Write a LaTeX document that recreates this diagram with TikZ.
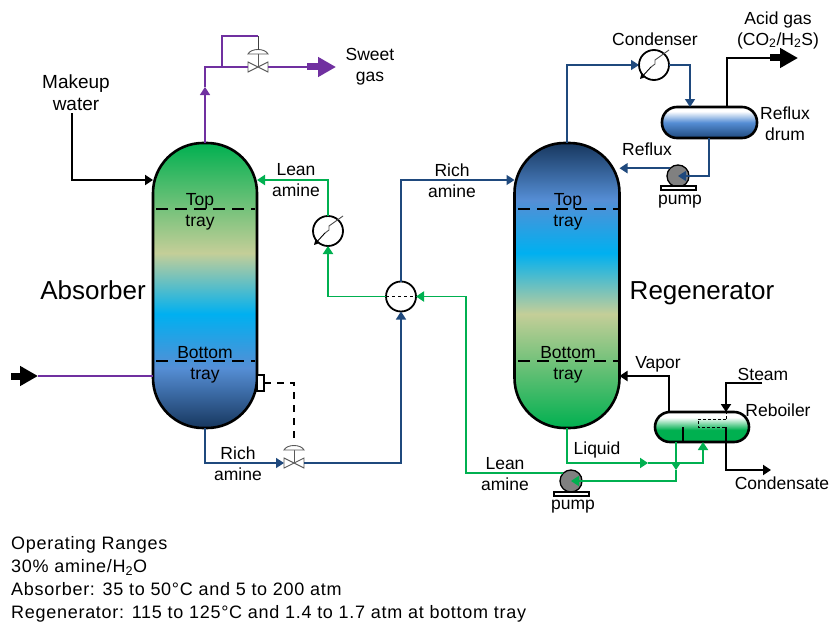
\documentclass[tikz,border=0pt]{standalone}
\usepackage{fontspec}
\setmainfont{Liberation Sans}
\newfontfamily\rangesfont[LetterSpace=4]{Liberation Sans}
\usetikzlibrary{
  calc,
  arrows.meta
}
\definecolor{gasline}{RGB}{112,48,160}
\definecolor{leanline}{RGB}{0,176,80}
\definecolor{richline}{RGB}{31,73,125}
\definecolor{khaki}{RGB}{196,206,152}
\definecolor{skyblue}{RGB}{0,176,240}
\definecolor{midblue}{RGB}{85,142,213}
\definecolor{navyblue}{RGB}{23,55,94}
\pgfdeclareverticalshading{absorberfill}{100bp}{
  color(0bp)=(navyblue); color(25bp)=(navyblue); color(35.5bp)=(midblue);
  color(45bp)=(skyblue); color(55.7bp)=(khaki); color(75bp)=(leanline); color(100bp)=(leanline)}
\pgfdeclareverticalshading{regenfill}{100bp}{
  color(0bp)=(leanline); color(25bp)=(leanline); color(45bp)=(khaki);
  color(55.7bp)=(skyblue); color(65bp)=(midblue); color(75bp)=(navyblue); color(100bp)=(navyblue)}
\pgfdeclareverticalshading{drumfill}{100bp}{
  color(0bp)=(richline); color(25bp)=(richline); color(50bp)=(midblue);
  color(68bp)=(white); color(100bp)=(white)}
\pgfdeclareverticalshading{boilerfill}{100bp}{
  color(0bp)=(leanline); color(45bp)=(leanline); color(66bp)=(white); color(100bp)=(white)}

\begin{document}
\begin{tikzpicture}[x=1pt,y=-1pt,>={Triangle[length=8pt,width=10pt]}]
  \tikzset{
    txt/.style={align=center, inner sep=0pt, font=\fontsize{17.5}{21}\selectfont},
    bigtxt/.style={font=\fontsize{26}{30}\selectfont},
    vessel/.style={draw, line width=2.6pt, inner sep=0pt, outer sep=0pt, rectangle,
      minimum width=#1},
    traydash/.style={line width=1.2pt, dash pattern=on 12pt off 7pt},
    hxcircle/.style={draw, circle, fill=white, line width=1.8pt, minimum size=30pt,
      inner sep=0pt, outer sep=0pt},
    pumpbody/.style={draw, circle, fill=gray, line width=1.3pt, minimum size=22pt,
      inner sep=0pt, outer sep=0pt},
    pumpbase/.style={draw, rectangle, fill=white, line width=1.3pt, minimum width=35pt,
      minimum height=4pt, inner sep=0pt, outer sep=0pt},
    valvebox/.style={rectangle, minimum width=20pt, minimum height=10pt, inner sep=0pt,
      outer sep=0pt},
    valveline/.style={draw=black!65, line width=0.9pt},
    gasflow/.style={gasline, line width=1.5pt},
    leanflow/.style={leanline, line width=1.8pt},
    richflow/.style={richline, line width=1.6pt},
    blackflow/.style={black, line width=1.8pt},
    fattip/.style={line width=7pt, -{Triangle[length=18pt,width=19pt]}},
  }
  \useasboundingbox (0,0) rectangle (830,626);

  % vessels
  \node[vessel=104pt, minimum height=285pt, rounded corners=50pt, shade, shading=absorberfill]
    (absorber) at (205,285.5) {};
  \node[vessel=105pt, minimum height=285pt, rounded corners=50pt, shade, shading=regenfill]
    (regen) at (567,285.5) {};
  \node[vessel=95pt, minimum height=31pt, rounded corners=15pt, shade, shading=drumfill]
    (drum) at (709.5,122.5) {};
  \node[vessel=94pt, minimum height=30pt, rounded corners=15pt, shade, shading=boilerfill]
    (reboiler) at (702,427) {};

  \foreach \xa/\xb in {156/255,518/618} {
    \draw[traydash] (\xa,209) -- (\xb,209);
    \draw[traydash] (\xa,361) -- (\xb,361);
  }

  % equipment
  \node[hxcircle] (condenser) at (654,65) {};
  \node[hxcircle] (cooler) at (328,231) {};
  \node[hxcircle] (exchanger) at (401,296.5) {};
  \draw[line width=1.4pt, dashed] (exchanger.west) -- (exchanger.east);
  \node[pumpbody] (refluxpump) at (678,176) {};
  \node[pumpbase] (refluxbase) at (678.5,188) {};
  \node[pumpbody] (leanpump) at (571,481) {};
  \node[pumpbase] (leanbase) at (571.5,494) {};
  \node[valvebox] (gasvalve) at (258,67) {};
  \node[valvebox] (richvalve) at (294,463) {};
  \node[draw, fill=white, line width=1.3pt, inner sep=0pt, outer sep=0pt, minimum width=7pt,
    minimum height=16pt] (levelbox) at (260.5,383) {};

  \foreach \hx in {condenser,cooler} {
    \draw[line width=0.9pt, black!70] ([shift={(-3,2)}]\hx.center) -- ([shift={(1,-1)}]\hx.center)
      -- ([shift={(1,-5)}]\hx.center) -- ([shift={(15,-15)}]\hx.center);
    \draw[line width=0.9pt, ->, >={Triangle[length=5pt,width=5pt]}] ([shift={(-3,2)}]\hx.center)
      -- ([shift={(-14,14)}]\hx.center);
  }
  \foreach \valve in {gasvalve,richvalve} {
    \draw[valveline] (\valve.center) -- ([yshift=13pt]\valve.center);
    \draw[valveline, fill=white] (\valve.north west) -- (\valve.south east)
      -- (\valve.north east) -- (\valve.south west) -- cycle;
    \draw[valveline, fill=white] ([shift={(-10,-13)}]\valve.center)
      .. controls ([shift={(-7,-19)}]\valve.center) and ([shift={(7,-19)}]\valve.center)
      .. ([shift={(10,-13)}]\valve.center) -- cycle;
  }

  % sweet gas side
  \coordinate (gasmark) at (205,87);
  \coordinate (gasbend) at (205,67);
  \coordinate (gastap) at (222,67);
  \coordinate (gastop) at (258,36);
  \coordinate (gasstub) at (307,67);
  \coordinate (gastip) at (336,67);
  \draw[gasflow, ->] (absorber.north) -- (gasmark);
  \draw[gasflow] (gasmark) -- (gasbend) -- (gasvalve.west);
  \draw[gasflow] (gastap) |- (gastop);
  \draw[black!75, line width=0.9pt] (gastop) -- ([yshift=17pt]gasvalve.center);
  \draw[gasflow] (gasvalve.east) -- (gasstub);
  \draw[gasline, fattip] (gasstub) -- (gastip);

  \coordinate (feedstart) at (11,376);
  \coordinate (feedtip) at (38,376);
  \draw[black, fattip] (feedstart) -- (feedtip);
  \draw[gasflow] (feedtip) -- (absorber.west |- feedtip);

  \coordinate (waterstart) at (72,113);
  \coordinate (waterbend) at (72,180);
  \draw[blackflow, ->] (waterstart) -- (waterbend) -- (absorber.west |- waterbend);

  % rich amine
  \coordinate (richbend) at (205,463);
  \draw[richflow, ->] (absorber.south) -- (richbend) -- (richvalve.west);
  \coordinate (richcorner) at (401,463);
  \draw[richflow, ->] (richvalve.east) -- (richcorner) -- (exchanger.south);
  \coordinate (richtop) at (401,180);
  \draw[richflow, ->] (exchanger.north) -- (richtop) -- (regen.west |- richtop);
  \coordinate (signalbend) at (294,383);
  \coordinate (signalend) at (294,444);
  \draw[line width=1.5pt, dash pattern=on 7pt off 6pt] (levelbox.east) -- (signalbend) -- (signalend);

  % lean amine
  \coordinate (leanbend) at (328,296.5);
  \draw[leanflow, ->] (exchanger.west) -- (leanbend) -- (cooler.south);
  \coordinate (leantop) at (328,180);
  \draw[leanflow, ->] (cooler.north) -- (leantop) -- (absorber.east |- leantop);
  \coordinate (leanriser) at (466,296.5);
  \draw[leanflow, ->] (leanpump.north west) -| (leanriser) -- (exchanger.east);

  % regenerator overhead
  \coordinate (ovhdbend) at (567,65);
  \draw[richflow, ->] (regen.north) -- (ovhdbend) -- (condenser.west);
  \coordinate (ovhdturn) at (690,65);
  \draw[richflow, ->] (condenser.east) -- (ovhdturn) -- (ovhdturn |- drum.north);
  \coordinate (drumout) at (709,176);
  \draw[richflow, ->] (drumout |- drum.south) -- (drumout) -- (refluxpump.center);
  \draw[richflow, ->] (refluxpump.north west) -- (regen.east |- refluxpump.north west);
  \coordinate (acidbend) at (727,58);
  \coordinate (acidstub) at (770,58);
  \coordinate (acidtip) at (798,58);
  \draw[blackflow] (acidbend |- drum.north) -- (acidbend) -- (acidstub);
  \draw[black, fattip] (acidstub) -- (acidtip);

  % reboiler
  \coordinate (vaporbend) at (669,376);
  \draw[blackflow, ->] (vaporbend |- reboiler.north) -- (vaporbend) -- (regen.east |- vaporbend);
  \coordinate (liqmark) at (648,463);
  \coordinate (liqbend) at (567,463);
  \coordinate (liqturn) at (703,463);
  \draw[leanflow, ->] (regen.south) -- (liqbend) -- (liqmark);
  \draw[leanflow, ->] (liqmark) -- (liqturn) -- (liqturn |- reboiler.south);
  \coordinate (botmark) at (676,470);
  \coordinate (botbend) at (676,481);
  \draw[leanflow, ->] (botmark |- reboiler.south) -- (botmark);
  \draw[leanflow, ->] (botmark) -- (botbend) -- (leanpump.center);
  \coordinate (steamstart) at (762,383);
  \coordinate (steambend) at (726,383);
  \draw[blackflow, ->] (steamstart) -- (steambend) -- (steambend |- reboiler.north);
  \coordinate (coilin) at (726,419);
  \coordinate (coilback) at (698,427);
  \coordinate (coilout) at (726,427);
  \draw[line width=0.6pt, densely dashed] (coilin) -- (coilback |- coilin) -- (coilback) -- (coilout);
  \draw[line width=0.6pt, densely dashed] (coilin) -- (steambend |- reboiler.north);
  \draw[line width=1.2pt] (683,427) -- (683,442);
  \coordinate (condbend) at (727,470);
  \coordinate (condtip) at (771,470);
  \draw[blackflow] (coilout) -- (coilout |- reboiler.south);
  \draw[blackflow, ->] (coilout |- reboiler.south) -- (coilout |- condbend) -- (condtip);

  % labels
  \node[txt, font=\fontsize{19}{22}\selectfont] (makeup) at (76,93) {Makeup\\water};
  \node[txt] (sweet) at (370,67) {Sweet\\gas};
  \node[txt] (leantxt) at (296,180) {Lean\\amine};
  \node[txt] (richtxt) at (452,181) {Rich\\amine};
  \node[txt] (richlow) at (238,464) {Rich\\amine};
  \node[txt] (leanlow) at (505,474) {Lean\\amine};
  \node[txt] (abstop) at (200,212) {Top\\tray};
  \node[txt] (absbot) at (205,365) {Bottom\\tray};
  \node[txt] (regtop) at (568,212) {Top\\tray};
  \node[txt] (regbot) at (568,365) {Bottom\\tray};
  \node[txt, bigtxt] (abstxt) at (93,290) {Absorber};
  \node[txt, bigtxt] (regtxt) at (702,293) {Regenerator};
  \node[txt] (condtxt) at (655,39) {Condenser};
  \node[txt] (acid) at (778,30) {Acid gas\\(CO\textsubscript{2}/H\textsubscript{2}S)};
  \node[txt] (drumtxt) at (785,124) {Reflux\\drum};
  \node[txt] (refluxtxt) at (647,149) {Reflux};
  \node[txt] (pumptop) at (680,202) {pump};
  \node[txt] (pumplow) at (573,507) {pump};
  \node[txt] (liquid) at (597,450) {Liquid};
  \node[txt] (vapor) at (658,364) {Vapor};
  \node[txt] (steam) at (763,374) {Steam};
  \node[txt] (boiltxt) at (778,410) {Reboiler};
  \node[txt] (condensate) at (782,483) {Condensate};
  \node[txt, align=left, anchor=north west, font=\rangesfont\fontsize{18}{23}\selectfont] (ranges) at (11,536)
    {Operating Ranges\\30\% amine/H\textsubscript{2}O\\Absorber: 35 to 50°C and 5 to 200 atm\\
     Regenerator: 115 to 125°C and 1.4 to 1.7 atm at bottom tray};
\end{tikzpicture}
\end{document}
